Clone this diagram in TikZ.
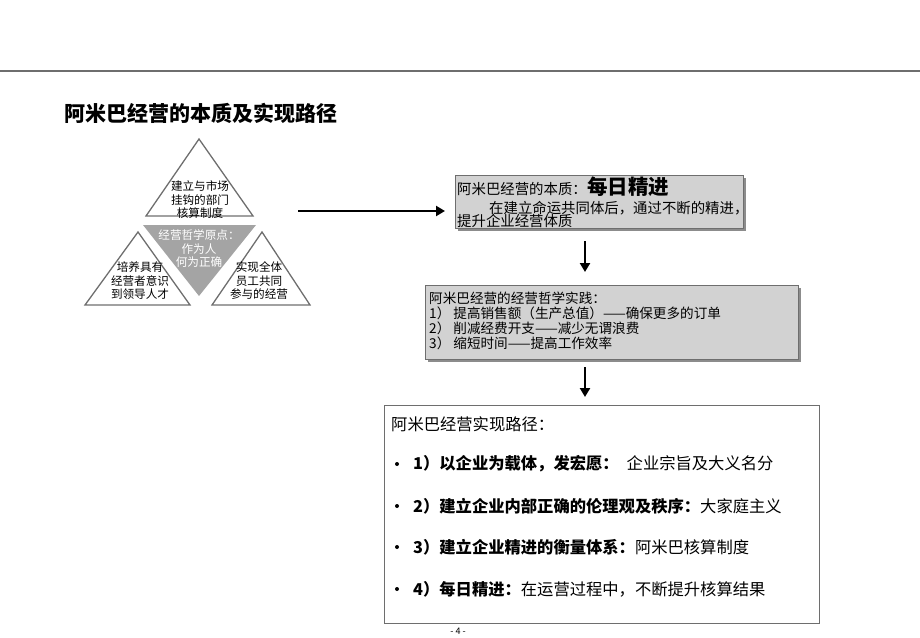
\documentclass[tikz,border=0pt]{standalone}
\usepackage{fontspec}
\setmainfont{Noto Sans CJK SC}
\usetikzlibrary{arrows.meta}
\definecolor{boxgray}{HTML}{D2D2D2}
\definecolor{shadowgray}{HTML}{8C8C8C}
\definecolor{trigray}{HTML}{A4A4A4}
\definecolor{linegray}{HTML}{6E6E6E}
\tikzset{
  tri/.style={draw=linegray, line width=1.3pt, line join=miter},
  tritext/.style={align=center, font=\fontsize{11.6}{13.5}\selectfont, inner sep=0pt},
  txt/.style={anchor=west, inner sep=0pt},
  bigarrow/.style={line width=2.6pt, -{Triangle[length=9pt,width=10pt]}},
  graybox/.style={fill=boxgray, draw=linegray, line width=0.5pt},
  bfont/.style={font=\fontsize{14.4}{16}\selectfont},
  cfont/.style={font=\fontsize{13.6}{16}\selectfont},
  dfont/.style={font=\fontsize{16.3}{19}\selectfont}
}
\begin{document}
\begin{tikzpicture}[x=1pt,y=-1pt]
\useasboundingbox (0,0) rectangle (920,637);
% top rule
\draw[linegray, line width=1.6pt] (0,71) -- (920,71);
\node[txt, font=\fontsize{21}{24}\selectfont\bfseries] (title) at (64,113) {阿米巴经营的本质及实现路径};
% triangles
\draw[tri] (199,139) -- (253,216) -- (146,216) -- cycle;
\draw[tri] (138,232) -- (190,305) -- (85,305) -- cycle;
\draw[tri] (262,232) -- (310,305) -- (212,305) -- cycle;
\fill[trigray] (143,225) -- (256,225) -- (199,296) -- cycle;
\node[tritext] (ttop) at (200,200) {建立与市场\\挂钩的部门\\核算制度};
\node[tritext, text=white] (tmid) at (199,249) {经营哲学原点：\\作为人\\何为正确};
\node[tritext] (tleft) at (140,281) {培养具有\\经营者意识\\到领导人才};
\node[tritext] (tright) at (259,281) {实现全体\\员工共同\\参与的经营};
% arrow to box 1
\coordinate (a1s) at (298,211);
\coordinate (a1e) at (445,211);
\draw[bigarrow] (a1s) -- (a1e);
% box 1
\fill[shadowgray] (458,178) rectangle (746,231);
\node[graybox, minimum width=288pt, minimum height=53pt, anchor=north west] (box1) at (455,175) {};
\node[anchor=base west, inner sep=0pt, bfont] (b1l1) at (457,194) {阿米巴经营的本质：};
\node[anchor=base west, inner sep=0pt, font=\fontsize{20.5}{22}\selectfont\bfseries] (b1big) at (b1l1.base east) {每日精进};
\node[txt, bfont] (b1l2) at (489,208) {在建立命运共同体后，通过不断的精进，};
\node[txt, bfont] (b1l3) at (457,221) {提升企业经营体质};
% arrow to box 2
\coordinate (a2s) at (585,241);
\coordinate (a2e) at (585,272);
\draw[bigarrow] (a2s) -- (a2e);
% box 2
\fill[shadowgray] (428,288) rectangle (801,362);
\node[graybox, minimum width=373pt, minimum height=74pt, anchor=north west] (box2) at (425,285) {};
\node[txt, cfont] (b2l1) at (429,298) {阿米巴经营的经营哲学实践：};
\node[txt, cfont] (b2l2) at (429,313) {1） 提高销售额（生产总值）——确保更多的订单};
\node[txt, cfont] (b2l3) at (429,328) {2） 削减经费开支——减少无谓浪费};
\node[txt, cfont] (b2l4) at (429,343) {3） 缩短时间——提高工作效率};
% arrow to box 3
\coordinate (a3s) at (585,367);
\coordinate (a3e) at (585,397);
\draw[bigarrow] (a3s) -- (a3e);
% box 3
\node[draw=linegray, line width=0.8pt, fill=white, minimum width=435pt, minimum height=218pt, anchor=north west] (box3) at (384,405) {};
\node[txt, dfont] (b3t) at (391,424) {阿米巴经营实现路径：};
\foreach \yy/\nm in {464/i1,506/i2,547/i3,589/i4}{
  \fill (397,\yy) circle (2pt);
}
\node[txt, dfont] (it1) at (413,464) {\textbf{1）以企业为载体，发宏愿：}\hspace{8pt}企业宗旨及大义名分};
\node[txt, dfont] (it2) at (413,506) {\textbf{2）建立企业内部正确的伦理观及秩序：}大家庭主义};
\node[txt, dfont] (it3) at (413,547) {\textbf{3）建立企业精进的衡量体系：}阿米巴核算制度};
\node[txt, dfont] (it4) at (413,589) {\textbf{4）每日精进：}在运营过程中，不断提升核算结果};
\node[inner sep=0pt, font=\fontsize{9}{10}\selectfont] (page) at (458,631) {- 4 -};
\end{tikzpicture}
\end{document}
